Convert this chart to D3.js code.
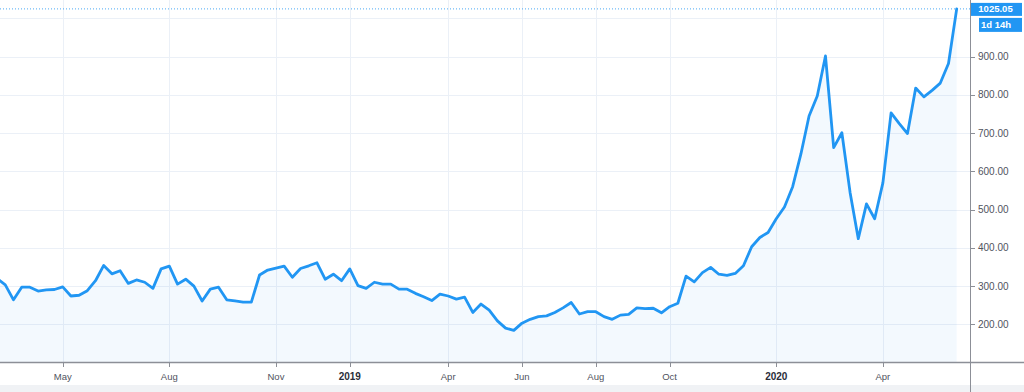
<!DOCTYPE html>
<html><head><meta charset="utf-8">
<script src="https://cdn.jsdelivr.net/npm/d3@7"></script>
<style>html,body{margin:0;padding:0;background:#fff;overflow:hidden}</style>
</head><body><svg id="c" width="1024" height="392"></svg>
<script>
// Weekly bars (Mondays), first bar 2018-03-12, last bar 2020-06-08
const firstWeek = "2018-03-12";
const lastWeek = "2020-06-08";
const closes = [
  320, 303, 264, 297, 297, 287, 290, 291,
  298, 274, 276, 288, 314, 354, 332, 340, 307, 316, 310, 294, 345, 352, 305, 318, 300,
  261, 292, 297, 264, 261, 258, 258, 329, 342, 347, 352, 323, 346, 353, 361, 318, 331, 314,
  345, 301, 294, 310, 305, 305, 292, 292, 281, 272, 262, 279, 274, 266, 271, 231, 253, 237,
  209, 190, 184, 203, 213, 220, 222, 231, 243, 257, 227, 233, 233, 220, 213, 224, 226, 243,
  241, 242, 230, 246, 255, 326, 311, 335, 349, 331, 328, 333, 353, 403, 427, 440,
  476, 507, 560, 645, 745, 797, 902, 662, 701, 545, 424, 515, 476, 570,
  753, 725, 699, 818, 795, 812, 831, 882, 1025.05
];
const yTickValues = [200, 300, 400, 500, 600, 700, 800, 900];
const yGridValues = [200, 300, 400, 500, 600, 700, 800, 900, 1000];
const xTickDates = ["2018-05-07","2018-08-06","2018-11-05","2019-01-07","2019-04-01","2019-06-03","2019-08-05","2019-10-07","2020-01-06","2020-04-06"];
const xTickLabels = ["May","Aug","Nov","2019","Apr","Jun","Aug","Oct","2020","Apr"];
const xTickIsYear = [false,false,false,true,false,false,false,false,true,false];
const lastPrice = 1025.05;
const countdown = "1d 14h";

const W = 1024, H = 392;
const plotRight = 970, plotBottom = 362;
const lineColor = "#2196f3";
const textColor = "#50535e";
const font = "'Liberation Sans', Arial, sans-serif";

const weeks = d3.utcMonday.range(new Date(firstWeek + "T00:00:00Z"), new Date(lastWeek + "T00:00:01Z"));
const data = weeks.map((d, i) => ({date: d, v: closes[i]}));

const x = d3.scaleUtc()
  .domain([new Date("2018-05-07T00:00:00Z"), new Date(lastWeek + "T00:00:00Z")])
  .range([62.7, 956.7]);
const y = d3.scaleLinear().domain([200, 900]).range([324.3, 56.7]);

const svg = d3.select("#c");
svg.append("rect").attr("width", W).attr("height", H).attr("fill", "#fff");

const defs = svg.append("defs");
defs.append("clipPath").attr("id", "plot")
  .append("rect").attr("x", 0).attr("y", 0).attr("width", plotRight).attr("height", plotBottom);

const g = svg.append("g").attr("clip-path", "url(#plot)");

// grid
g.selectAll(".hg").data(yGridValues).join("line")
  .attr("x1", 0).attr("x2", plotRight)
  .attr("y1", d => Math.round(y(d)) + 0.5).attr("y2", d => Math.round(y(d)) + 0.5)
  .attr("stroke", "#ebf0f7").attr("stroke-width", 1);
const tickDates = xTickDates.map(s => new Date(s + "T00:00:00Z"));
g.selectAll(".vg").data(tickDates).join("line")
  .attr("x1", d => Math.round(x(d)) + 0.5).attr("x2", d => Math.round(x(d)) + 0.5)
  .attr("y1", 0).attr("y2", plotBottom)
  .attr("stroke", "#ebf0f7").attr("stroke-width", 1);

// area
const area = d3.area().x(d => x(d.date)).y0(plotBottom).y1(d => y(d.v));
g.append("path").datum(data).attr("d", area).attr("fill", "rgba(33,150,243,0.055)");

// price line (dotted)
g.append("line").attr("x1", 0).attr("x2", plotRight)
  .attr("y1", y(lastPrice)).attr("y2", y(lastPrice))
  .attr("stroke", lineColor).attr("stroke-width", 1).attr("stroke-dasharray", "1,2").attr("opacity", 0.8);

// line
const line = d3.line().x(d => x(d.date)).y(d => y(d.v));
g.append("path").datum(data).attr("d", line)
  .attr("fill", "none").attr("stroke", lineColor).attr("stroke-width", 2.8)
  .attr("stroke-linejoin", "round").attr("stroke-linecap", "round");

// bottom band
svg.append("rect").attr("x", 0).attr("y", 385).attr("width", W).attr("height", H - 385).attr("fill", "#f0f2f5");

// axis lines
svg.append("line").attr("x1", 0).attr("x2", W).attr("y1", plotBottom + 0.5).attr("y2", plotBottom + 0.5)
  .attr("stroke", "#8c8f97").attr("stroke-width", 1.3);
svg.append("line").attr("x1", plotRight + 0.5).attr("x2", plotRight + 0.5).attr("y1", 0).attr("y2", H)
  .attr("stroke", "#8c8f97").attr("stroke-width", 1);

// x ticks
const xt = svg.append("g");
xt.selectAll("line").data(tickDates).join("line")
  .attr("x1", d => Math.round(x(d)) + 0.5).attr("x2", d => Math.round(x(d)) + 0.5)
  .attr("y1", plotBottom + 1).attr("y2", plotBottom + 5)
  .attr("stroke", "#8c8f97");
xt.selectAll("text").data(tickDates).join("text")
  .attr("x", d => x(d)).attr("y", 379.5)
  .attr("text-anchor", "middle")
  .attr("font-family", font).attr("font-size", (d, i) => xTickIsYear[i] ? 10 : 9.5)
  .attr("font-weight", (d, i) => xTickIsYear[i] ? "bold" : "normal")
  .attr("fill", (d, i) => xTickIsYear[i] ? "#2a2e39" : textColor)
  .text((d, i) => xTickLabels[i]);

// y ticks
const yt = svg.append("g");
yt.selectAll("line").data(yTickValues).join("line")
  .attr("x1", plotRight + 1).attr("x2", plotRight + 5)
  .attr("y1", d => Math.round(y(d)) + 0.5).attr("y2", d => Math.round(y(d)) + 0.5)
  .attr("stroke", "#8c8f97");
yt.selectAll("text").data(yTickValues).join("text")
  .attr("x", 978).attr("y", d => y(d)).attr("dy", "0.35em")
  .attr("font-family", font).attr("font-size", 10).attr("fill", textColor)
  .text(d => d3.format(".2f")(d));

// last price label
const py = y(lastPrice);
svg.append("rect").attr("x", 971).attr("y", py - 6).attr("width", 51).attr("height", 13).attr("fill", lineColor);
svg.append("rect").attr("x", 979).attr("y", py + 9).attr("width", 43).attr("height", 14).attr("fill", lineColor);
svg.append("text").attr("x", 995.5).attr("y", py).attr("dy", "0.36em").attr("text-anchor", "middle")
  .attr("font-family", font).attr("font-size", 9.5).attr("font-weight", "bold").attr("fill", "#fff")
  .text(d3.format(".2f")(lastPrice));
svg.append("text").attr("x", 996).attr("y", py + 16).attr("dy", "0.36em").attr("text-anchor", "middle")
  .attr("font-family", font).attr("font-size", 9.5).attr("font-weight", "bold").attr("fill", "#fff")
  .text(countdown);
</script>
</body></html>
